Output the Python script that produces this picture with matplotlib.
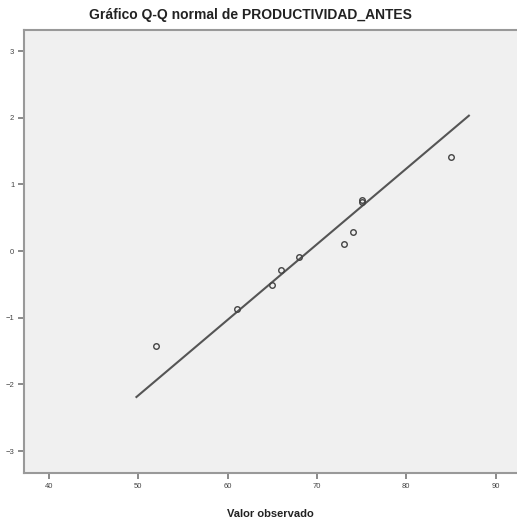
import matplotlib
matplotlib.use("Agg")
import matplotlib.pyplot as plt
from matplotlib import font_manager

observed = [52, 61, 65, 66, 68, 73, 74, 75, 75, 85]
expected = [-1.43, -0.87, -0.51, -0.29, -0.09, 0.10, 0.285, 0.74, 0.76, 1.41]

# reference line end points
line_x = [49.7, 87.1]
line_y = [-2.2, 2.04]

x_ticks = [40, 50, 60, 70, 80, 90]
y_ticks = [-3, -2, -1, 0, 1, 2, 3]

title = "Gráfico Q-Q normal de PRODUCTIVIDAD_ANTES"
xlabel = "Valor observado"

names = {f.name for f in font_manager.fontManager.ttflist}
narrow = "Liberation Sans Narrow" if "Liberation Sans Narrow" in names else "Liberation Sans"

fig = plt.figure(figsize=(5.17, 5.24), dpi=100)
ax = fig.add_axes([24 / 517, 51 / 524, 1 - 24 / 517, 443 / 524])
ax.set_facecolor("#f0f0f0")

ax.plot(line_x, line_y, color="#555555", lw=1.5, solid_capstyle="butt")
ax.plot(observed, expected, ls="none", marker="o", ms=4.0, mfc="none",
        mec="#444444", mew=1.0)

ax.set_xlim(37.2, 92.4)
ax.set_ylim(-3.33, 3.315)
ax.set_xticks(x_ticks)
ax.set_yticks(y_ticks)
ax.tick_params(direction="out", length=4, width=1.2, color="#777777",
               labelsize=5.5, labelcolor="#444444", pad=3)
for lab in ax.get_xticklabels() + ax.get_yticklabels():
    lab.set_family(narrow)

for side in ["left", "bottom", "top"]:
    ax.spines[side].set_color("#999999")
    ax.spines[side].set_linewidth(1.5)
ax.spines["right"].set_visible(False)

fig.text(250 / 517, 1 - 15 / 524, title, ha="center", va="center",
         fontsize=10, fontweight="bold", family=narrow, color="#222222")
ax.set_xlabel(xlabel, fontsize=8, fontweight="bold", family=narrow,
              color="#222222", labelpad=14)

fig.savefig("out.png", dpi=100)
